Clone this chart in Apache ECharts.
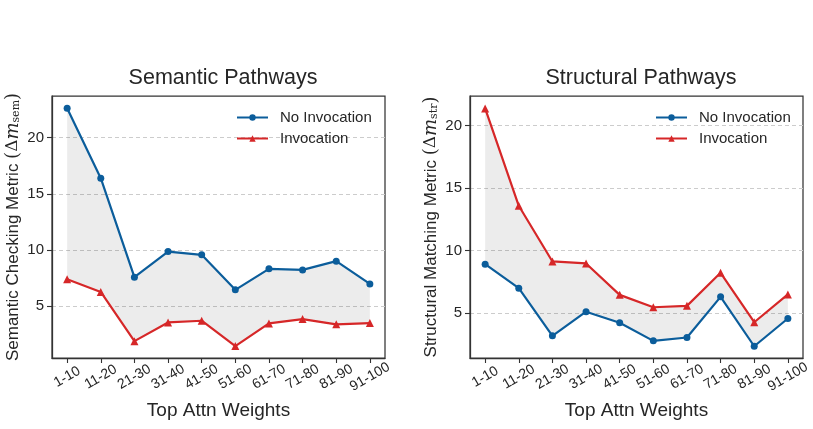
<!DOCTYPE html>
<html><head><meta charset="utf-8">
<script src="https://cdn.jsdelivr.net/npm/echarts@6/dist/echarts.min.js"></script>
<style>html,body{margin:0;padding:0;background:#fff}#c{width:813px;height:429px}</style>
</head><body><div id="c"></div>
<script>
const categories = ['1-10','11-20','21-30','31-40','41-50','51-60','61-70','71-80','81-90','91-100'];
const semNoInv = [22.62,16.39,7.57,9.85,9.56,6.44,8.31,8.22,9.00,6.97];
const semInv   = [7.38,6.25,1.87,3.54,3.69,1.43,3.45,3.84,3.37,3.48];
const strNoInv = [8.90,6.98,3.17,5.10,4.22,2.77,3.04,6.29,2.34,4.56];
const strInv   = [21.36,13.57,9.12,8.96,6.45,5.46,5.57,8.21,4.26,6.48];
const yTicks = [5,10,15,20];
const xTicks = categories.map((c,i)=>i);

const BLUE = '#0b5d9b', RED = '#d62728', TXT = '#262626', FONT = 'Liberation Sans, Arial, sans-serif';
const chart = echarts.init(document.getElementById('c'));
const pairs = arr => arr.map((v,i)=>[i,v]);

function band(upper, lower, idx){
  return {
    type:'custom', xAxisIndex:idx, yAxisIndex:idx, z:1, silent:true,
    data:[[0,0]],
    renderItem:(params, api)=>{
      const pts = upper.map((v,i)=>api.coord([i,v]));
      for(let i=lower.length-1;i>=0;i--) pts.push(api.coord([i,lower[i]]));
      return {type:'polygon', shape:{points:pts}, style:{fill:'rgba(0,0,0,0.075)'}};
    }
  };
}
function lineS(name, data, color, symbol, size, idx){
  return {type:'line', name, data:pairs(data), xAxisIndex:idx, yAxisIndex:idx, z:3,
    symbol, symbolSize:size, showSymbol:true, color,
    lineStyle:{color, width:2.2}, itemStyle:{color}, emphasis:{disabled:true}};
}
function xA(idx){
  return {type:'value', gridIndex:idx, min:-0.45, max:9.45,
    name:'Top Attn Weights', nameLocation:'middle', nameGap:43,
    nameTextStyle:{fontSize:19, color:TXT, fontFamily:FONT},
    axisLine:{show:true, onZero:false, lineStyle:{color:'#333', width:1.25}},
    axisTick:{show:true, customValues:xTicks, length:5, lineStyle:{color:'#333', width:1.1}},
    axisLabel:{customValues:xTicks, rotate:30, margin:19, align:'center', verticalAlign:'middle',
      fontSize:14, color:TXT, fontFamily:FONT,
      formatter:v=>categories[Math.round(v)]},
    splitLine:{show:false}};
}
function yA(idx, min, max, nameRich){
  return {type:'value', gridIndex:idx, min, max,
    name:nameRich, nameLocation:'middle', nameRotate:90, nameGap:30,
    nameTextStyle:{fontSize:17, color:TXT, fontFamily:FONT,
      rich:{a:{fontSize:17, color:TXT, fontFamily:FONT},
            p:{fontSize:18, color:TXT, fontFamily:'DejaVu Serif, serif'},
            d:{fontSize:17, color:TXT, fontFamily:'DejaVu Serif, serif'},
            m:{fontSize:18, color:TXT, fontStyle:'italic', fontFamily:'DejaVu Serif, serif'},
            s:{fontSize:11, color:TXT, fontFamily:'DejaVu Serif, serif', verticalAlign:'bottom', padding:[7,0,0,0]}}},
    axisLine:{show:true, onZero:false, lineStyle:{color:'#333', width:1.25}},
    axisTick:{show:true, customValues:yTicks, length:5, lineStyle:{color:'#333', width:1.1}},
    axisLabel:{customValues:yTicks, margin:8, fontSize:15, color:TXT, fontFamily:FONT},
    splitLine:{show:true, lineStyle:{color:'#cccccc', type:[4,3], width:1}}};
}
const legendCommon = {orient:'vertical', itemWidth:31, itemHeight:8, itemGap:6,
  textStyle:{fontSize:15, color:TXT, fontFamily:FONT, padding:[0,0,0,7]}};

chart.setOption({
  animation:false,
  title:[
    {text:'Semantic Pathways', left:218, top:62, textAlign:'center', textStyle:{fontSize:21.5, fontWeight:'normal', color:TXT, fontFamily:FONT}},
    {text:'Structural Pathways', left:636, top:62, textAlign:'center', textStyle:{fontSize:21.5, fontWeight:'normal', color:TXT, fontFamily:FONT}}
  ],
  legend:[
    Object.assign({left:231, top:105, data:['No Invocation','Invocation']}, legendCommon),
    Object.assign({left:650, top:105, data:['No Invocation ','Invocation ']}, legendCommon)
  ],
  grid:[
    {left:52, right:428, top:96, bottom:71, show:true, borderColor:'#333', borderWidth:1.25, backgroundColor:'transparent'},
    {left:470, right:10, top:96, bottom:71, show:true, borderColor:'#333', borderWidth:1.25, backgroundColor:'transparent'}
  ],
  xAxis:[xA(0), xA(1)],
  yAxis:[
    yA(0, 0.37, 23.71, '{a|Semantic Checking Metric }{p|(}{d|Δ}{m|m}{s|sem}{p|)}'),
    yA(1, 1.40, 22.35, '{a|Structural Matching Metric }{p|(}{d|Δ}{m|m}{s|str}{p|)}')
  ],
  series:[
    band(semNoInv, semInv, 0),
    lineS('No Invocation', semNoInv, BLUE, 'circle', 7, 0),
    lineS('Invocation', semInv, RED, 'triangle', 8, 0),
    band(strInv, strNoInv, 1),
    lineS('No Invocation ', strNoInv, BLUE, 'circle', 7, 1),
    lineS('Invocation ', strInv, RED, 'triangle', 8, 1)
  ]
});
</script></body></html>
